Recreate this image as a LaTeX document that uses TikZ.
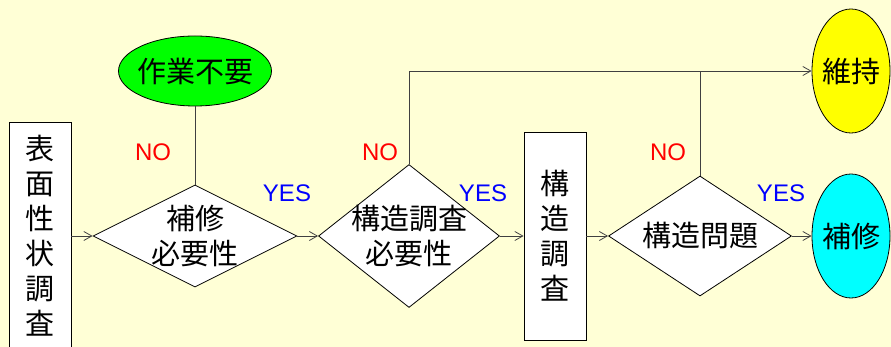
\documentclass[tikz,border=0pt]{standalone}
\usepackage{fontspec}
\setmainfont{Liberation Sans}
\newfontfamily\jp{Noto Sans CJK JP}
\usetikzlibrary{shapes.geometric,arrows.meta}
\definecolor{bgcream}{RGB}{255,255,214}
\definecolor{okgreen}{RGB}{0,255,0}
\definecolor{keepyellow}{RGB}{255,255,0}
\definecolor{fixcyan}{RGB}{0,255,255}

\begin{document}
\begin{tikzpicture}
  [x=1pt,y=-1pt,
   box/.style={rectangle,draw=black,fill=white,line width=.8pt,inner sep=0pt,minimum width=62pt},
   dia/.style={diamond,draw=black,fill=white,line width=.8pt,inner sep=0pt},
   oval/.style={ellipse,draw=black,line width=.8pt,inner sep=0pt},
   txt/.style={font=\jp\fontsize{29}{35}\selectfont,align=center,inner sep=0pt},
   no/.style={text=red,font=\fontsize{24}{24}\selectfont,inner sep=0pt},
   yes/.style={text=blue,font=\fontsize{24}{24}\selectfont,inner sep=0pt},
   line/.style={draw=black!75,line width=.8pt},
   arr/.style={line,-{Straight Barb[length=8pt,width=9pt]}}]

  \path[use as bounding box,fill=bgcream] (0,0) rectangle (891,347);

  \node[box,minimum height=228pt] (survey) at (40,236) {};
  \node[txt] (surveyt) at (survey) {表\\面\\性\\状\\調\\査};
  \node[dia,minimum width=204pt,minimum height=102pt] (need) at (195,236) {};
  \node[txt] (needt) at (need) {補修\\必要性};
  \node[oval,fill=okgreen,minimum width=153pt,minimum height=70pt] (nowork) at (195,71) {};
  \node[txt] (noworkt) at (nowork) {作業不要};
  \node[dia,minimum width=181pt,minimum height=143pt] (check) at (409,236) {};
  \node[txt] (checkt) at (check) {構造調査\\必要性};
  \node[box,minimum height=208pt] (struct) at (555,236) {};
  \node[txt] (structt) at (struct) {構\\造\\調\\査};
  \node[dia,minimum width=183pt,minimum height=120pt] (problem) at (700,236) {};
  \node[txt] (problemt) at (problem) {構造問題};
  \node[oval,fill=keepyellow,minimum width=78pt,minimum height=124pt] (keep) at (851,71) {};
  \node[txt] (keept) at (keep) {維持};
  \node[oval,fill=fixcyan,minimum width=78pt,minimum height=124pt] (repair) at (851,236) {};
  \node[txt] (repairt) at (repair) {補修};

  % answers
  \node[no] (no1) at (153,152) {NO};
  \node[no] (no2) at (380,152) {NO};
  \node[no] (no3) at (668,152) {NO};
  \node[yes] (yes1) at (287,193) {YES};
  \node[yes] (yes2) at (483,193) {YES};
  \node[yes] (yes3) at (781,193) {YES};

  \foreach \from/\to in {survey/need,need/check,check/struct,struct/problem,problem/repair}
    \draw[arr] (\from) -- (\to);

  \draw[line] (need) -- (nowork);
  \draw[arr] (check.north) |- (keep.west);
  \coordinate (join) at (problem.north |- keep.west);
  \draw[line] (problem.north) -- (join);

\end{tikzpicture}
\end{document}
